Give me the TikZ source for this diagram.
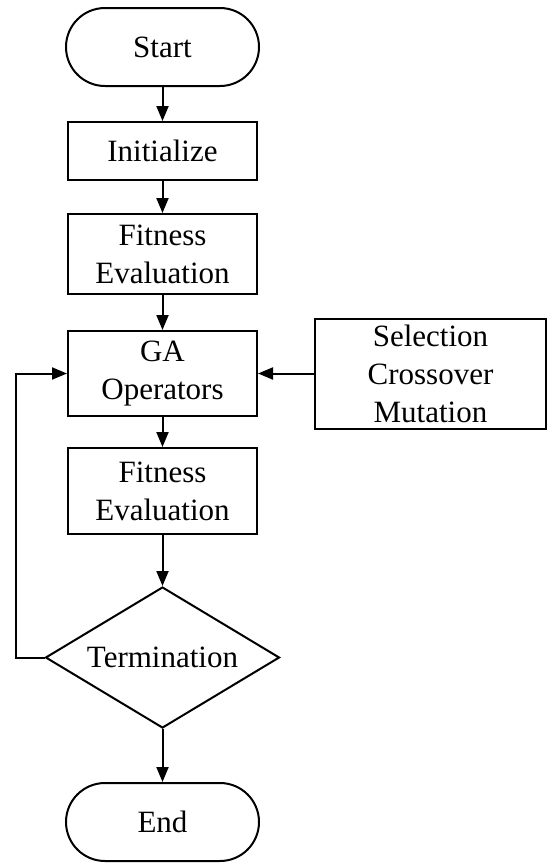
\documentclass[tikz,border=0pt]{standalone}
\usepackage{fontspec}
\setmainfont{Liberation Serif}
\usetikzlibrary{shapes.geometric,arrows.meta}
\tikzset{
 box/.style={draw,line width=2pt,align=center,inner sep=0pt},
 term/.style={box,rounded corners=39pt,minimum width=193pt,minimum height=78pt},
 flow/.style={line width=2pt,-{Triangle[length=15pt,width=12pt]}}
}
\begin{document}
\begin{tikzpicture}[x=1pt,y=-1pt,font=\fontsize{31}{38}\selectfont]
 \useasboundingbox (0,0) rectangle (550,863);

 \node[term] (start) at (162.5,47){Start};
 \node[box,minimum width=189pt,minimum height=58pt] (init) at (162.5,151){Initialize};
 \node[box,minimum width=189pt,minimum height=80pt] (fit1) at (162.5,254){Fitness\\Evaluation};
 \node[box,minimum width=189pt,minimum height=85pt] (ga) at (162.5,373.5){GA\\Operators};
 \node[box,minimum width=231pt,minimum height=110pt] (ops) at (430.5,373.5){Selection\\Crossover\\Mutation};
 \node[box,minimum width=189pt,minimum height=86pt] (fit2) at (162.5,491){Fitness\\Evaluation};
 \node[box,diamond,aspect=1.66,minimum width=234pt,minimum height=141pt] (stop) at (162.5,657.5){Termination};
 \node[term] (end) at (162.5,822){End};
 \coordinate (back) at (16,657.5);

 \draw[flow] (start) to (init);
 \draw[flow] (init) to (fit1);
 \draw[flow] (fit1) to (ga);
 \draw[flow] (ga) to (fit2);
 \draw[flow] (fit2) to (stop);
 \draw[flow] (stop) to (end);
 \draw[flow] (ops) to (ga);
 \draw[flow] (stop.west) -- (back) |- (ga.west);
\end{tikzpicture}
\end{document}
